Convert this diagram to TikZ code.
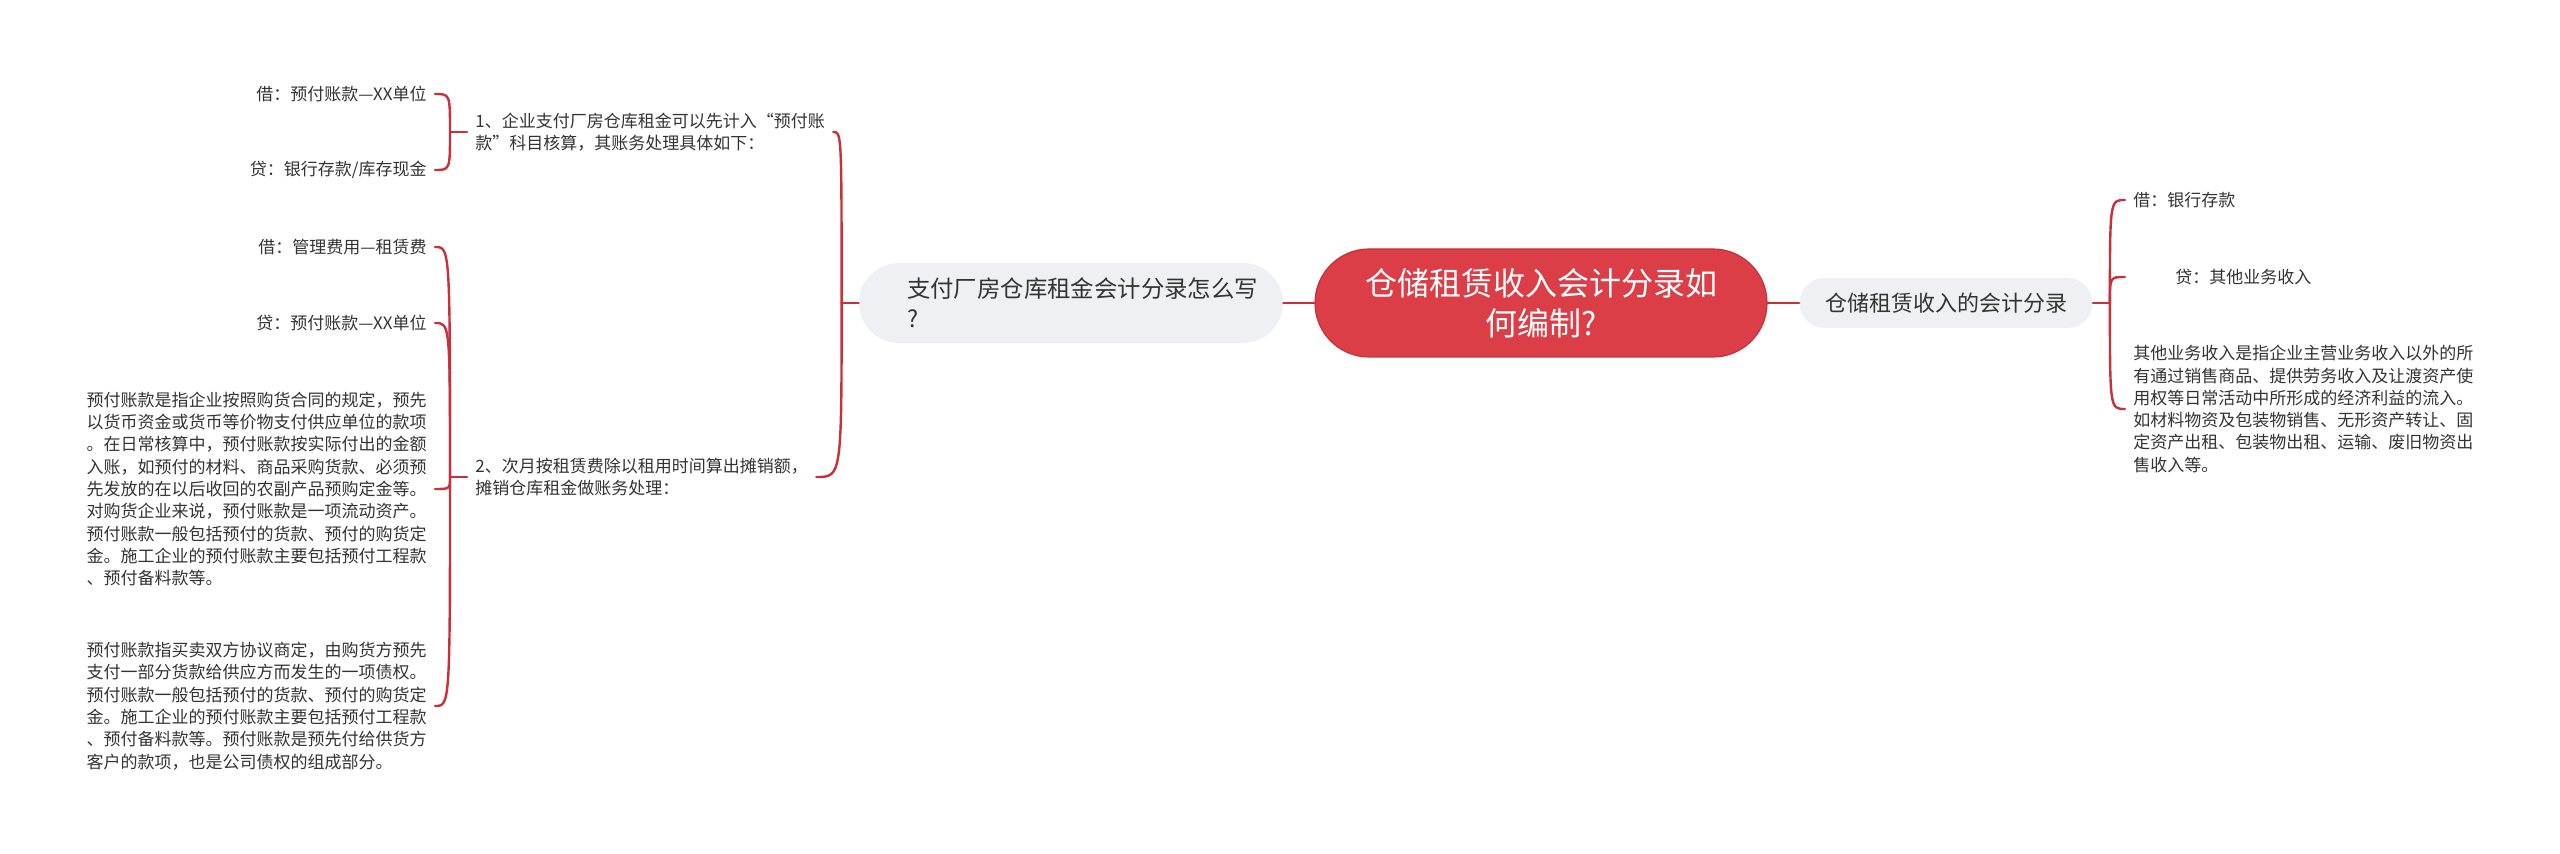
\documentclass[tikz,border=0pt]{standalone}
\usepackage{fontspec}
\setmainfont{Noto Sans CJK SC}
\definecolor{linered}{HTML}{C9303A}
\definecolor{rootred}{HTML}{DB3E46}
\definecolor{rootedge}{HTML}{C4323A}
\definecolor{topicgray}{HTML}{EEF0F3}
\definecolor{ink}{HTML}{333333}
\begin{document}
\begin{tikzpicture}[x=0.5pt, y=-0.5pt, line join=round, line cap=round,
    font=\fontsize{8.5}{11.15}\selectfont, text=ink,
    leaf/.style={inner xsep=4pt, inner ysep=1pt, align=left},
    topic/.style={fill=topicgray, rounded corners=#1, inner sep=0pt},
    link/.style={draw=linered, line width=1.2pt}]
	\useasboundingbox (0,0) rectangle (2560,854);
	\node[fill=rootred, draw=rootedge, line width=0.6pt, rounded corners=27pt, minimum width=226pt, minimum height=54pt,
	      text=white, align=center, font=\fontsize{16}{20}\selectfont] (root) at (1541,303) {仓储租赁收入会计分录如\\何编制?};
	\node[topic=20pt, minimum width=212pt, minimum height=40pt, text width=164pt, align=left,
	      font=\fontsize{11.7}{15}\selectfont] (lq) at (1071,303) {支付厂房仓库租金会计分录怎么写\\?};
	\node[topic=12.5pt, minimum width=146.5pt, minimum height=25pt, font=\fontsize{11}{14}\selectfont] (rq) at (1946,303) {仓储租赁收入的会计分录};
	% left branch
	\node[leaf, anchor=west] (c1) at (467,132) {1、企业支付厂房仓库租金可以先计入“预付账\\款”科目核算，其账务处理具体如下：};
	\node[leaf, anchor=west] (c2) at (467,477) {2、次月按租赁费除以租用时间算出摊销额，\\摊销仓库租金做账务处理：};
	\node[leaf, anchor=east] (l1) at (435,94) {借：预付账款—XX单位};
	\node[leaf, anchor=east] (l2) at (435,170) {贷：银行存款/库存现金};
	\node[leaf, anchor=east] (l3) at (435,247) {借：管理费用—租赁费};
	\node[leaf, anchor=east] (l4) at (435,323) {贷：预付账款—XX单位};
	\node[leaf, anchor=east] (p1) at (435,489) {预付账款是指企业按照购货合同的规定，预先\\以货币资金或货币等价物支付供应单位的款项\\。在日常核算中，预付账款按实际付出的金额\\入账，如预付的材料、商品采购货款、必须预\\先发放的在以后收回的农副产品预购定金等。\\对购货企业来说，预付账款是一项流动资产。\\预付账款一般包括预付的货款、预付的购货定\\金。施工企业的预付账款主要包括预付工程款\\、预付备料款等。};
	\node[leaf, anchor=east] (p2) at (435,706) {预付账款指买卖双方协议商定，由购货方预先\\支付一部分货款给供应方而发生的一项债权。\\预付账款一般包括预付的货款、预付的购货定\\金。施工企业的预付账款主要包括预付工程款\\、预付备料款等。预付账款是预先付给供货方\\客户的款项，也是公司债权的组成部分。};
	% right branch
	\node[leaf, anchor=west] (r1) at (2125,200) {借：银行存款};
	\node[leaf, anchor=west, text width=110pt, align=center] (r2) at (2125,277) {贷：其他业务收入};
	\node[leaf, anchor=west] (r3) at (2125,409) {其他业务收入是指企业主营业务收入以外的所\\有通过销售商品、提供劳务收入及让渡资产使\\用权等日常活动中所形成的经济利益的流入。\\如材料物资及包装物销售、无形资产转让、固\\定资产出租、包装物出租、运输、废旧物资出\\售收入等。};
	\draw[link] (root.west) -- (lq.east);
	\draw[link] (root.east) -- (rq.west);
	\draw[link] (lq.west) -- ++(-17,0) coordinate (jl);
	\draw[link] (c1.west) -- ++(-17,0) coordinate (j1);
	\draw[link] (c2.west) -- ++(-17,0) coordinate (j2);
	\draw[link] (rq.east) -- ++(17,0) coordinate (jr);
	\foreach \c in {c1,c2}\draw[link] (jl) .. controls (jl |- \c.east) .. (\c.east);
	\foreach \c in {l1,l2}\draw[link] (j1) .. controls (j1 |- \c.east) .. (\c.east);
	\foreach \c in {l3,l4,p1,p2}\draw[link] (j2) .. controls (j2 |- \c.east) .. (\c.east);
	\foreach \c in {r1,r2,r3}\draw[link] (jr) .. controls (jr |- \c.west) .. (\c.west);
\end{tikzpicture}
\end{document}
